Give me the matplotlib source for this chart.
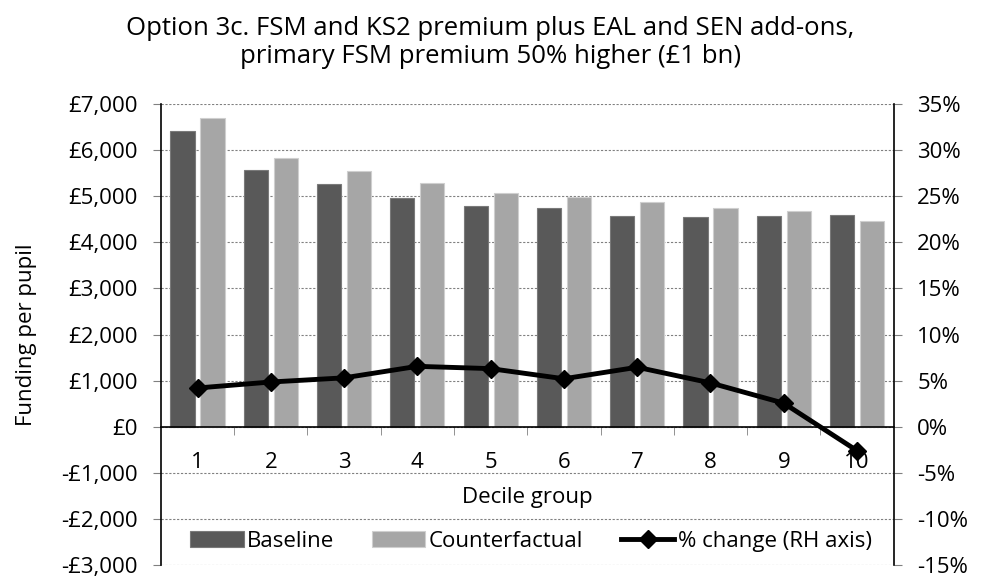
import numpy as np
import matplotlib
matplotlib.use('Agg')
import matplotlib.pyplot as plt
from matplotlib.ticker import FuncFormatter, MultipleLocator, FixedLocator

plt.rcParams['font.family'] = ['Open Sans', 'DejaVu Sans']

# data
deciles = ['1', '2', '3', '4', '5', '6', '7', '8', '9', '10']
baseline = [6420, 5570, 5260, 4960, 4790, 4740, 4580, 4540, 4570, 4590]
counterfactual = [6690, 5840, 5550, 5280, 5080, 4990, 4870, 4750, 4680, 4460]
pct_change = [4.2, 4.85, 5.3, 6.55, 6.3, 5.2, 6.45, 4.75, 2.55, -2.6]

title = 'Option 3c. FSM and KS2 premium plus EAL and SEN add-ons,\nprimary FSM premium 50% higher (£1 bn)'
fs = 16

fig = plt.figure(figsize=(9.81, 5.78), dpi=100)
ax = fig.add_axes([0.164, 0.0225, 0.747, 0.7975])
x = np.arange(1, len(deciles) + 1)
w = 0.33
ax.bar(x - 0.205, baseline, w, color='#595959', edgecolor='#7a7a7a', lw=0.8,
       label='Baseline', zorder=2)
ax.bar(x + 0.205, counterfactual, w, color='#a6a6a6', edgecolor='#cfcfcf', lw=0.8,
       label='Counterfactual', zorder=2)

ax.set_xlim(0.5, 10.5)
ax.set_ylim(-3000, 7000)
ax.yaxis.set_major_locator(MultipleLocator(1000))
def money(v, pos):
    v = int(round(v))
    return ('-£{:,}' if v < 0 else '£{:,}').format(abs(v))
ax.yaxis.set_major_formatter(FuncFormatter(money))
ax.grid(axis='y', color='#808080', ls=(0, (2, 1.5)), lw=0.8, zorder=0)
ax.set_axisbelow(True)

ax.spines['top'].set_visible(False)
ax.spines['right'].set_visible(False)
ax.spines['bottom'].set_position(('data', 0))
ax.spines['left'].set_linewidth(1.2)
ax.spines['bottom'].set_linewidth(1.2)
ax.set_xticks(x)
ax.set_xticklabels(deciles)
ax.xaxis.set_minor_locator(FixedLocator(np.arange(1.5, 10.5, 1)))
ax.tick_params(axis='x', which='major', length=0, pad=18, labelsize=fs)
ax.tick_params(axis='x', which='minor', length=6, direction='out', color='#808080')
ax.tick_params(axis='y', length=6, direction='out', labelsize=fs, color='#808080', pad=11)
ax.set_xlabel('Decile group', fontsize=fs, labelpad=10)
ax.set_ylabel('Funding per pupil', fontsize=fs, labelpad=17)

ax2 = ax.twinx()
ax2.set_ylim(-15, 35)
ax2.yaxis.set_major_locator(MultipleLocator(5))
ax2.yaxis.set_major_formatter(FuncFormatter(lambda v, p: '{:d}%'.format(int(round(v)))))
for s in ['top', 'bottom', 'left']:
    ax2.spines[s].set_visible(False)
ax2.spines['right'].set_linewidth(1.2)
ax2.tick_params(axis='y', length=6, direction='out', labelsize=fs, color='#808080', pad=11)
ax2.plot(x, pct_change, color='black', lw=3.5, marker='D', ms=9,
         label='% change (RH axis)', zorder=5)

h1, l1 = ax.get_legend_handles_labels()
h2, l2 = ax2.get_legend_handles_labels()
ax2.legend(h1 + h2, l1 + l2, loc='lower center', bbox_to_anchor=(0.505, -0.015), ncol=3,
           frameon=False, fontsize=fs, handlelength=2.4, handletextpad=0.15,
           columnspacing=1.7)

fig.suptitle(title, fontsize=18.5, y=0.972, va='top', linespacing=1.15)
fig.savefig('out.png', dpi=100)
